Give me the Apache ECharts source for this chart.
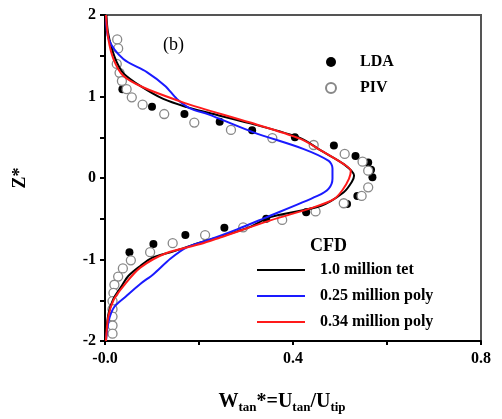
<!DOCTYPE html>
<html>
<head>
<meta charset="utf-8">
<script src="https://cdn.jsdelivr.net/npm/echarts@6/dist/echarts.min.js"></script>
<style>
  html, body { margin: 0; padding: 0; background: #fff; }
  #chart { width: 502px; height: 419px; }
</style>
</head>
<body>
<div id="chart"></div>
<script>
// 测量数据 [W*, Z*]
const ldaPoints = [
  [0.037, 1.09], [0.10, 0.875], [0.169, 0.785], [0.244, 0.69], [0.313, 0.585],
  [0.404, 0.50], [0.487, 0.40], [0.533, 0.27], [0.560, 0.19], [0.566, 0.10],
  [0.569, 0.01], [0.537, -0.22], [0.515, -0.32], [0.428, -0.42], [0.343, -0.50],
  [0.254, -0.61], [0.171, -0.70], [0.103, -0.81], [0.052, -0.91]
]
const pivPoints = [
  [0.026, 1.70], [0.028, 1.59], [0.025, 1.40], [0.031, 1.29], [0.036, 1.19],
  [0.046, 1.09], [0.057, 0.99], [0.080, 0.90], [0.126, 0.785], [0.19, 0.68],
  [0.268, 0.59], [0.356, 0.49], [0.444, 0.405], [0.51, 0.295], [0.548, 0.20],
  [0.56, 0.09], [0.56, -0.115], [0.546, -0.22], [0.508, -0.31], [0.448, -0.41],
  [0.377, -0.515], [0.294, -0.605], [0.213, -0.70], [0.144, -0.80], [0.096, -0.91],
  [0.055, -1.01], [0.038, -1.11], [0.028, -1.21], [0.020, -1.31], [0.018, -1.41],
  [0.016, -1.51], [0.016, -1.61], [0.016, -1.70], [0.016, -1.81], [0.016, -1.91]
]

// CFD 曲线
const tetLine = [
  [0.003, 2.0], [0.006, 1.8], [0.014, 1.6], [0.025, 1.42], [0.04, 1.28], [0.075, 1.13],
  [0.124, 0.97], [0.174, 0.87], [0.22, 0.8], [0.309, 0.67], [0.416, 0.49], [0.46, 0.335],
  [0.508, 0.17], [0.53, 0.03], [0.525, -0.05], [0.508, -0.175], [0.46, -0.34], [0.352, -0.48],
  [0.309, -0.60], [0.245, -0.72], [0.203, -0.79], [0.146, -0.9], [0.10, -0.98], [0.075, -1.08],
  [0.05, -1.2], [0.035, -1.33], [0.018, -1.48], [0.008, -1.65], [0.004, -1.81], [0.002, -2.0]
]
const poly025Line = [
  [0.002, 2.0], [0.008, 1.7], [0.039, 1.46], [0.089, 1.3], [0.128, 1.13], [0.153, 0.97],
  [0.181, 0.855], [0.22, 0.78], [0.316, 0.56], [0.423, 0.355], [0.476, 0.21], [0.484, 0.12],
  [0.484, -0.01], [0.476, -0.13], [0.452, -0.22], [0.338, -0.495], [0.281, -0.63], [0.22, -0.76],
  [0.174, -0.85], [0.139, -0.99], [0.103, -1.18], [0.075, -1.3], [0.045, -1.45], [0.02, -1.58],
  [0.008, -1.75], [0.002, -2.0]
]
const poly034Line = [
  [0.002, 2.0], [0.007, 1.71], [0.018, 1.46], [0.039, 1.255], [0.082, 1.11], [0.16, 0.94],
  [0.203, 0.86], [0.309, 0.68], [0.416, 0.48], [0.459, 0.34], [0.508, 0.17], [0.523, 0.09],
  [0.519, -0.01], [0.505, -0.15], [0.487, -0.26], [0.444, -0.36], [0.352, -0.52], [0.245, -0.73],
  [0.203, -0.81], [0.131, -0.92], [0.075, -1.10], [0.04, -1.32], [0.018, -1.5], [0.007, -1.7],
  [0.002, -2.0]
]

// 刻度标签
const xLabelValues = [0, 0.4, 0.8]
const xLabelTexts = ['-0.0', '0.4', '0.8']
const yLabelValues = [-2, -1, 0, 1, 2]

const serif = 'Liberation Serif'

function xLabel(value) {
  const i = xLabelValues.findIndex(v => Math.abs(v - value) < 1e-6)
  return i >= 0 ? xLabelTexts[i] : ''
}

function yLabel(value) {
  const i = yLabelValues.findIndex(v => Math.abs(v - value) < 1e-6)
  return i >= 0 ? String(yLabelValues[i]) : ''
}

const chart = echarts.init(document.getElementById('chart'))

const lineSeries = (name, data, color) => ({
  name,
  type: 'line',
  data,
  smooth: 0.3,
  symbol: 'none',
  lineStyle: { color, width: 2 },
  itemStyle: { color },
  z: 3
})

chart.setOption({
  backgroundColor: '#fff',
  animation: false,
  title: [
    {
      text: '(b)',
      left: 158,
      top: 31,
      textStyle: { fontFamily: serif, fontSize: 18, fontWeight: 'normal', color: '#000' }
    },
    {
      text: 'CFD',
      left: 305,
      top: 232,
      textStyle: { fontFamily: serif, fontSize: 18, fontWeight: 'bold', color: '#000' }
    }
  ],
  legend: [
    {
      data: ['LDA', 'PIV'],
      orient: 'vertical',
      left: 320,
      top: 49,
      itemWidth: 10,
      itemHeight: 10,
      itemGap: 10,
      textStyle: {
        fontFamily: serif, fontSize: 16, fontWeight: 'bold', color: '#000',
        lineHeight: 16, padding: [0, 0, 0, 19]
      }
    },
    {
      data: ['1.0 million tet', '0.25 million poly', '0.34 million poly'],
      orient: 'vertical',
      left: 252,
      top: 257,
      icon: 'rect',
      itemWidth: 48,
      itemHeight: 2,
      itemGap: 10,
      textStyle: {
        fontFamily: serif, fontSize: 16, fontWeight: 'bold', color: '#000',
        lineHeight: 16, padding: [0, 0, 0, 10]
      }
    }
  ],
  grid: {
    left: 105,
    right: 21,
    top: 15,
    bottom: 77,
    show: true,
    borderColor: '#555',
    borderWidth: 2
  },
  xAxis: {
    type: 'value',
    min: 0,
    max: 0.8,
    interval: 0.2,
    name: 'W{s|tan}*=U{s|tan}/U{s|tip}',
    nameLocation: 'middle',
    nameGap: 48,
    nameTextStyle: {
      fontFamily: serif, fontSize: 20, fontWeight: 'bold', color: '#000',
      padding: [0, 22, 0, 0],
      rich: {
        s: { fontFamily: serif, fontSize: 13, fontWeight: 'bold', color: '#000', padding: [12, 0, 0, 0] }
      }
    },
    axisLine: { onZero: false, lineStyle: { color: '#000', width: 2 } },
    axisTick: { length: 4, lineStyle: { color: '#000', width: 2 } },
    axisLabel: {
      formatter: xLabel,
      margin: 10,
      fontFamily: serif, fontSize: 16, fontWeight: 'bold', color: '#000'
    },
    splitLine: { show: false }
  },
  yAxis: {
    type: 'value',
    min: -2,
    max: 2,
    interval: 0.5,
    name: 'Z*',
    nameLocation: 'middle',
    nameGap: 76,
    nameTextStyle: { fontFamily: serif, fontSize: 18, fontWeight: 'bold', color: '#000' },
    axisLine: { onZero: false, lineStyle: { color: '#000', width: 2 } },
    axisTick: { length: 5, lineStyle: { color: '#000', width: 2 } },
    axisLabel: {
      formatter: yLabel,
      margin: 9,
      fontFamily: serif, fontSize: 16, fontWeight: 'bold', color: '#000'
    },
    splitLine: { show: false }
  },
  series: [
    {
      name: 'LDA',
      type: 'scatter',
      data: ldaPoints,
      symbolSize: 8,
      itemStyle: { color: '#000', opacity: 1 },
      z: 2
    },
    {
      name: 'PIV',
      type: 'scatter',
      data: pivPoints,
      symbolSize: 9,
      itemStyle: { color: '#fff', borderColor: '#888', borderWidth: 1.3, opacity: 1 },
      z: 2
    },
    lineSeries('1.0 million tet', tetLine, '#000'),
    lineSeries('0.25 million poly', poly025Line, '#1a1aff'),
    lineSeries('0.34 million poly', poly034Line, '#ff1a1a')
  ]
})
</script>
</body>
</html>
